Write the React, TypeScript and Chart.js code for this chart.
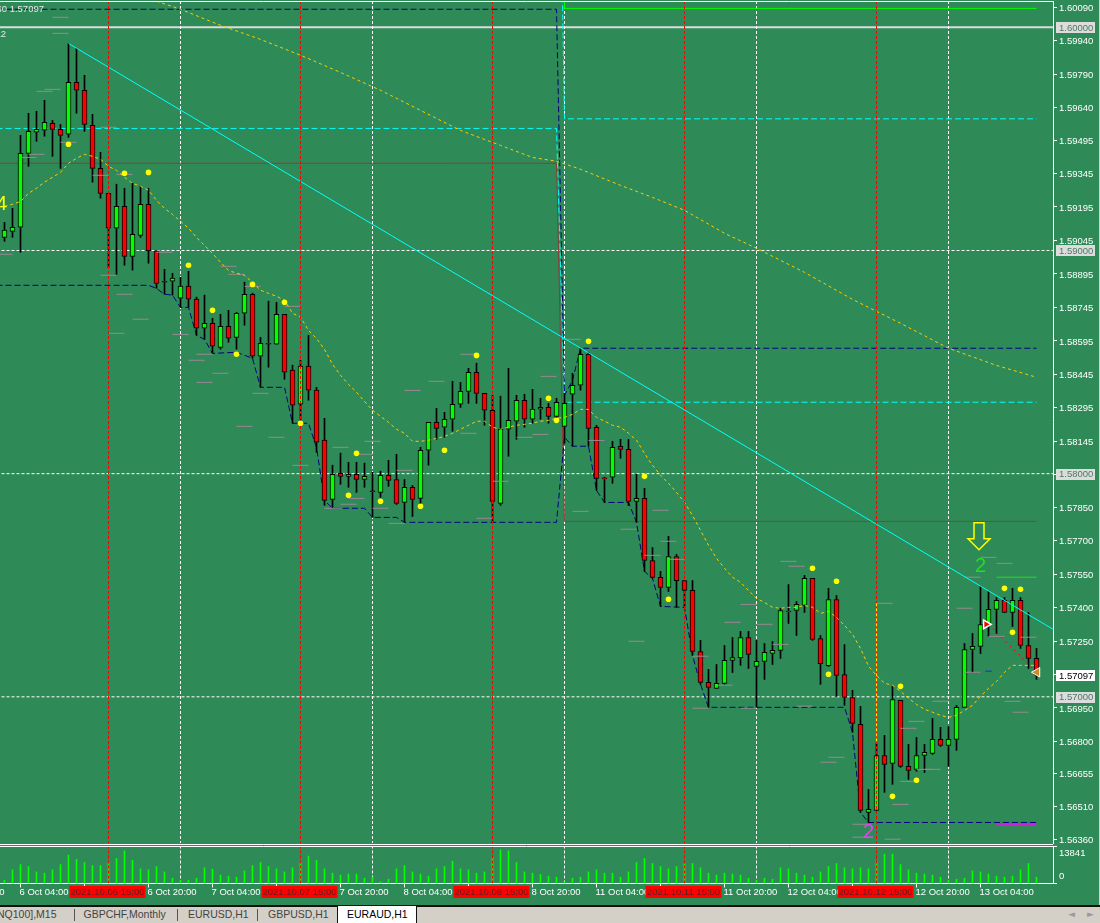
import React, { useEffect, useRef } from "react";
import { Chart, registerables } from "chart.js";

Chart.register(...registerables);

const opens = [
  1.59059,1.59086,1.59104,1.59435,1.59530,1.59539,1.59570,1.59543,1.59521,1.59754,
  1.59718,1.59561,1.59368,1.59256,1.59100,1.59198,1.58974,1.59068,1.59207,1.58999,
  1.58862,1.58862,1.58786,1.58840,1.58782,1.58652,1.58674,1.58566,1.58660,1.58611,
  1.58719,1.58804,1.58526,1.58584,1.58580,1.58714,1.58464,1.58311,1.58482,1.58374,
  1.58150,1.57885,1.58002,1.57988,1.57997,1.57974,1.57923,1.57916,1.57993,1.57974,
  1.57871,1.57939,1.57889,1.58105,1.58230,1.58208,1.58244,1.58311,1.58369,1.58454,
  1.58360,1.58284,1.57867,1.58199,1.58235,1.58329,1.58244,1.58289,1.58297,1.58257,
  1.58212,1.58356,1.58396,1.58535,1.58208,1.57981,1.57984,1.58123,1.58109,1.57876,
  1.57889,1.57611,1.57535,1.57490,1.57629,1.57521,1.57477,1.57203,1.57065,1.57038,
  1.57060,1.57163,1.57176,1.57266,1.57136,1.57159,1.57194,1.57208,1.57384,1.57387,
  1.57410,1.57531,1.57261,1.57140,1.57436,1.57100,1.56997,1.56877,1.56482,1.56491,
  1.56737,1.56702,1.56984,1.56688,1.56675,1.56737,1.56746,1.56809,1.56782,1.56809,
  1.56953,1.57212,1.57226,1.57324,1.57392,1.57432,1.57378,1.57432,1.57230,1.57172,
];
const closes = [
  1.59091,1.59104,1.59435,1.59534,1.59543,1.59574,1.59543,1.59516,1.59754,1.59718,
  1.59565,1.59368,1.59256,1.59100,1.59198,1.58974,1.59073,1.59207,1.58999,1.58853,
  1.58858,1.58876,1.58840,1.58782,1.58652,1.58674,1.58571,1.58660,1.58607,1.58719,
  1.58804,1.58526,1.58584,1.58580,1.58714,1.58455,1.58307,1.58482,1.58374,1.58141,
  1.57880,1.57997,1.57988,1.57997,1.57974,1.57988,1.57919,1.57993,1.57970,1.57867,
  1.57939,1.57885,1.58105,1.58230,1.58203,1.58244,1.58311,1.58369,1.58454,1.58360,
  1.58284,1.57876,1.58199,1.58239,1.58329,1.58244,1.58289,1.58297,1.58257,1.58320,
  1.58315,1.58396,1.58535,1.58203,1.57979,1.57977,1.58118,1.58109,1.57876,1.57889,
  1.57611,1.57535,1.57490,1.57629,1.57521,1.57477,1.57203,1.57065,1.57042,1.57060,
  1.57163,1.57176,1.57266,1.57190,1.57159,1.57199,1.57208,1.57387,1.57380,1.57414,
  1.57531,1.57257,1.57149,1.57436,1.57096,1.56997,1.56881,1.56491,1.56496,1.56737,
  1.56697,1.56988,1.56688,1.56670,1.56737,1.56751,1.56809,1.56782,1.56809,1.56953,
  1.57212,1.57226,1.57324,1.57392,1.57432,1.57378,1.57432,1.57230,1.57172,1.57097,
];
const highs = [
  1.59126,1.59189,1.59516,1.59615,1.59624,1.59673,1.59583,1.59565,1.59928,1.59906,
  1.59785,1.59610,1.59440,1.59256,1.59297,1.59279,1.59301,1.59288,1.59279,1.58999,
  1.58916,1.58898,1.58880,1.58907,1.58791,1.58800,1.58696,1.58714,1.58732,1.58723,
  1.58858,1.58809,1.58611,1.58773,1.58768,1.58714,1.58486,1.58508,1.58620,1.58387,
  1.58248,1.58038,1.58092,1.58051,1.58051,1.58047,1.58006,1.58011,1.58060,1.58087,
  1.57974,1.57947,1.58118,1.58230,1.58293,1.58275,1.58414,1.58409,1.58472,1.58495,
  1.58360,1.58351,1.58347,1.58472,1.58351,1.58356,1.58378,1.58338,1.58315,1.58338,
  1.58360,1.58450,1.58562,1.58544,1.58217,1.57984,1.58145,1.58154,1.58154,1.57997,
  1.57934,1.57669,1.57562,1.57719,1.57638,1.57521,1.57521,1.57253,1.57123,1.57145,
  1.57230,1.57266,1.57293,1.57293,1.57253,1.57239,1.57248,1.57396,1.57503,1.57427,
  1.57544,1.57531,1.57275,1.57486,1.57454,1.57234,1.57029,1.56957,1.56585,1.56791,
  1.56827,1.57047,1.56984,1.56787,1.56818,1.56787,1.56903,1.56863,1.56867,1.56962,
  1.57239,1.57284,1.57495,1.57472,1.57445,1.57445,1.57486,1.57445,1.57378,1.57217,
];
const lows = [
  1.59041,1.59059,1.58992,1.59377,1.59489,1.59512,1.59422,1.59368,1.59507,1.59615,
  1.59534,1.59306,1.59234,1.58923,1.58893,1.58934,1.58912,1.59059,1.58943,1.58831,
  1.58804,1.58800,1.58746,1.58746,1.58620,1.58602,1.58540,1.58558,1.58589,1.58558,
  1.58665,1.58517,1.58387,1.58477,1.58580,1.58423,1.58226,1.58239,1.58329,1.58096,
  1.57858,1.57845,1.57952,1.57939,1.57916,1.57939,1.57804,1.57894,1.57943,1.57862,
  1.57782,1.57808,1.57849,1.58038,1.58154,1.58163,1.58190,1.58297,1.58315,1.58315,
  1.58217,1.57782,1.57858,1.58078,1.58154,1.58208,1.58226,1.58244,1.58226,1.58239,
  1.58136,1.58123,1.58374,1.58123,1.57925,1.57871,1.57957,1.58069,1.57858,1.57782,
  1.57562,1.57531,1.57405,1.57472,1.57401,1.57401,1.57185,1.57056,1.56953,1.57038,
  1.57056,1.57109,1.57141,1.57127,1.56953,1.57078,1.57145,1.57172,1.57329,1.57275,
  1.57378,1.57253,1.57056,1.57136,1.57002,1.56962,1.56841,1.56482,1.56437,1.56491,
  1.56572,1.56608,1.56684,1.56630,1.56666,1.56661,1.56742,1.56778,1.56688,1.56760,
  1.56953,1.57109,1.57194,1.57271,1.57284,1.57378,1.57315,1.57217,1.57127,1.57078,
];
const volumes = [
  1179,5109,7074,6288,4323,3930,5109,7074,10611,9039,
  7860,6681,6681,7991,9432,12183,8646,5502,5109,6288,
  4323,1965,1048,1179,1965,5895,5371,3144,2751,2358,
  4716,6681,7860,6288,5502,4323,5895,7860,10218,8646,
  5502,3930,3144,3537,3537,1965,2358,655,1572,5502,
  6681,4323,3537,2751,5502,6288,8253,5502,5109,3930,
  4323,9825,12576,12183,7860,4323,3930,3406,2751,2358,
  655,1965,2358,4323,5109,3930,3930,2358,4323,7860,
  9432,7467,6288,5502,6288,7467,7467,5895,3930,3144,
  3930,3537,3144,1965,1048,1965,1572,5895,5502,3930,
  3144,2358,4323,6288,7467,5895,5502,5895,5502,8253,
  11004,11004,7074,5109,3930,3537,3144,2358,1048,1572,
  1965,4716,4323,3537,2751,2358,2751,5109,7467,2358,
];
const fastMa = [
  1.59198,1.59207,1.59220,1.59256,1.59279,1.59306,1.59328,1.59350,1.59391,1.59413,
  1.59431,1.59422,1.59409,1.59377,1.59359,1.59328,1.59301,1.59288,1.59270,1.59225,
  1.59189,1.59162,1.59131,1.59100,1.59059,1.59023,1.58987,1.58947,1.58911,1.58898,
  1.58889,1.58857,1.58822,1.58808,1.58795,1.58777,1.58719,1.58701,1.58642,1.58606,
  1.58557,1.58490,1.58441,1.58400,1.58365,1.58324,1.58284,1.58257,1.58230,1.58199,
  1.58181,1.58145,1.58145,1.58150,1.58158,1.58167,1.58181,1.58199,1.58217,1.58235,
  1.58235,1.58208,1.58199,1.58208,1.58217,1.58221,1.58226,1.58235,1.58239,1.58248,
  1.58252,1.58266,1.58288,1.58288,1.58252,1.58235,1.58217,1.58208,1.58181,1.58150,
  1.58091,1.58037,1.57993,1.57957,1.57916,1.57871,1.57813,1.57746,1.57679,1.57621,
  1.57576,1.57536,1.57513,1.57477,1.57441,1.57423,1.57401,1.57397,1.57401,1.57401,
  1.57410,1.57401,1.57374,1.57383,1.57356,1.57320,1.57280,1.57217,1.57137,1.57096,
  1.57061,1.57052,1.57025,1.56993,1.56966,1.56944,1.56931,1.56917,1.56908,1.56917,
  1.56939,1.56962,1.57002,1.57038,1.57069,1.57110,1.57141,1.57141,1.57141,1.57141,
];
const slowMaBars = [19,22,27,32,37,42,47,52,57,62,66,69,72,77,81,85,90,94,100,106,112,118,124,129];
const slowMaValues = [1.60117,1.60081,1.60009,1.59946,1.59875,1.59798,1.59718,1.59628,1.59538,1.59471,1.59417,1.59400,1.59364,1.59292,1.59238,1.59180,1.59077,1.59010,1.58902,1.58781,1.58674,1.58562,1.58485,1.58432];
const trendBars = [8, 131.1];
const trendValues = [1.59928, 1.57302];

const supportBars = [-1,18,19,20,21,22,23,24,25,26,29,31,32,35,36,38,39,40,41,45,46,49,50,69,70,71,73,74,75,78,79,80,81,82,85,86,87,88,105,106,107,108,129];
const supportValues = [1.58844,1.58844,1.58830,1.58804,1.58800,1.58745,1.58745,1.58620,1.58602,1.58539,1.58544,1.58517,1.58387,1.58387,1.58226,1.58226,1.58118,1.57880,1.57845,1.57845,1.57804,1.57804,1.57782,1.57782,1.58163,1.58123,1.58123,1.57925,1.57871,1.57871,1.57782,1.57562,1.57531,1.57405,1.57401,1.57186,1.57056,1.56953,1.56953,1.56841,1.56482,1.56437,1.56437];
const resistanceBars = [-1,69,70,71,72,129];
const resistanceValues = [1.60081,1.60081,1.58351,1.58418,1.58562,1.58562];
const cyanABars = [-1,69,70,129];
const cyanAValues = [1.59547,1.59547,1.58320,1.58320];
const cyanBBars = [69,70,129];
const cyanBValues = [1.61671,1.59590,1.59590];
const brownBars = [-1,69,70,129];
const brownValues = [1.59391,1.59391,1.57786,1.57786];
const greenBars = [70,70,129];
const greenValues = [1.60118,1.60085,1.60085];
const targetBars = [124,129];
const targetUpValue = 1.57536;
const targetDownValue = 1.56429;
const tradeBars = [123,129];
const tradeValues = [1.57325,1.57110];
const blueMarkBars = [122.6,123.4];
const blueMarkValue = 1.57115;
const yellowSepBar = 109;
const yellowSepValues = [1.57419,1.56791];

const roundLevels = [1.59,1.58,1.57];
const topLevel = 1.6;
const midnightBars = [22,46,70,94,118];
const redBars = [13,37,61,85,109];
const redLabels = ["2021.10.06 15:00","2021.10.07 15:00","2021.10.08 15:00","2021.10.11 15:00","2021.10.12 15:00"];

const dotBars = [8,15,18,23,31,35,26,29,37,44,43,47,52,55,59,68,69,73,80,83,101,104,103,112,111,114,125,127,126];
const dotValues = [1.59476,1.59346,1.59350,1.58934,1.58848,1.58768,1.58732,1.58535,1.58226,1.58091,1.57903,1.57876,1.57854,1.58105,1.58530,1.58338,1.58239,1.58593,1.57988,1.57437,1.57576,1.57518,1.57101,1.57047,1.56554,1.56626,1.57486,1.57482,1.57289];

const dashBars = [7,7,5,6,4,3,8,13,12,15,20,0,28,29,13,15,31,17,14,22,25,24,27,25,32,30,34,37,36,42,46,45,44,43,41,47,49,50,51,54,58,58,68,62,60,65,67,72,74,71,82,78,83,84,81,79,87,91,93,95,97,98,99,90,87,93,100,110,103,104,107,107,111,112,113,115,116,114,113,117,126,127,120,121,121,124,125,128,123];
const dashValues = [1.60045,1.59973,1.59713,1.59722,1.59431,1.59417,1.59485,1.59552,1.59337,1.59341,1.58992,1.58983,1.58929,1.58893,1.58889,1.58804,1.58839,1.58692,1.58629,1.58624,1.58535,1.58508,1.58450,1.58409,1.58360,1.58212,1.58163,1.58037,1.58750,1.58118,1.58145,1.58087,1.57889,1.57863,1.57845,1.57845,1.57777,1.58015,1.58373,1.58414,1.58535,1.58181,1.58436,1.57966,1.57800,1.58163,1.58176,1.57831,1.58149,1.58602,1.57836,1.57751,1.57697,1.57616,1.57634,1.57249,1.57182,1.57334,1.57414,1.57325,1.57235,1.57607,1.57585,1.57052,1.56949,1.56949,1.56958,1.57419,1.56707,1.56729,1.56429,1.56371,1.56362,1.56518,1.56621,1.56675,1.56675,1.56890,1.56859,1.56980,1.56980,1.56931,1.57397,1.57536,1.57110,1.57271,1.57598,1.57267,1.57625];

const priceTicks = [1.6009,1.5994,1.5979,1.5964,1.59495,1.59345,1.59195,1.59045,1.58895,1.58745,1.58595,1.58445,1.58295,1.58145,1.57995,1.5785,1.577,1.5755,1.574,1.5725,1.571,1.5695,1.568,1.56655,1.5651,1.5636];
const levelLabels = [1.6,1.59,1.58,1.57];
const lastPrice = 1.57097;
const volumeTicks = [13841,0];
const timeBars = [-6,2,10,18,26,34,42,50,58,66,74,82,90,98,106,114,122];
const timeLabels = ["5 Oct 20:00","6 Oct 04:00","","6 Oct 20:00","7 Oct 04:00","","7 Oct 20:00","8 Oct 04:00","","8 Oct 20:00","11 Oct 04:00","","11 Oct 20:00","12 Oct 04:00","","12 Oct 20:00","13 Oct 04:00"];
const tabs = ["NQ100],M15","GBPCHF,Monthly","EURUSD,H1","GBPUSD,H1","EURAUD,H1"];

const BG = "#2e8b57";
const FONT = '"Liberation Sans", Arial, sans-serif';
const FS = 9.5;
const P_MAX = 1.60118;
const P_MIN = 1.56345;
const X_MIN = -0.5625;
const X_MAX = 131.0625;

const xy = (xs: number[], ys: number[]) => xs.map((x, i) => ({ x, y: ys[i] }));
const line = (label: string, xs: number[], ys: number[], color: string, dash: number[], order: number, width = 1) => ({
  type: "line" as const,
  label,
  data: xy(xs, ys),
  borderColor: color,
  borderWidth: width,
  borderDash: dash,
  pointRadius: 0,
  fill: false,
  tension: 0,
  order,
});

const pricePlugin = {
  id: "priceDecor",
  afterDraw(chart: any) {
    const { ctx, chartArea, scales } = chart;
    const x = scales.x;
    const y = scales.y;
    ctx.save();
    ctx.strokeStyle = "#ffffff";
    ctx.lineWidth = 1;
    ctx.beginPath();
    ctx.moveTo(0, 1.5);
    ctx.lineTo(chartArea.right, 1.5);
    ctx.moveTo(0, 844.5);
    ctx.lineTo(chartArea.right, 844.5);
    ctx.stroke();

    ctx.textBaseline = "middle";
    ctx.font = `${FS}px ${FONT}`;
    levelLabels.forEach((v) => {
      const py = y.getPixelForValue(v);
      ctx.fillStyle = "#dcdcdc";
      ctx.fillRect(1056, Math.round(py) - 5, 39, 11);
      ctx.fillStyle = "#4c7a64";
      ctx.textAlign = "left";
      ctx.fillText(v.toFixed(5), 1059, py + 1);
    });
    const lp = y.getPixelForValue(lastPrice);
    ctx.fillStyle = "#ffffff";
    ctx.fillRect(1056, Math.round(lp) - 5, 39, 11);
    ctx.fillStyle = "#000000";
    ctx.fillText(lastPrice.toFixed(5), 1059, lp + 1);

    ctx.fillStyle = "#e8e8e8";
    ctx.textAlign = "right";
    ctx.fillText("60 1.57097", 44, 9.5);
    ctx.fillText("12", 6, 34);

    ctx.font = `20px ${FONT}`;
    ctx.fillStyle = "#ffff00";
    ctx.fillText("4", 7, 204);
    ctx.textAlign = "center";
    ctx.fillStyle = "#22dd22";
    ctx.fillText("2", x.getPixelForValue(122), y.getPixelForValue(1.57582));
    ctx.fillStyle = "#ff33ff";
    ctx.fillText("2", x.getPixelForValue(108), y.getPixelForValue(1.56392));

    const ax = x.getPixelForValue(122) - 1.5;
    const ay = y.getPixelForValue(1.57780);
    ctx.strokeStyle = "#ffff00";
    ctx.lineWidth = 1.5;
    ctx.beginPath();
    ctx.moveTo(ax - 5, ay);
    ctx.lineTo(ax + 5, ay);
    ctx.lineTo(ax + 5, ay + 16);
    ctx.lineTo(ax + 11, ay + 16);
    ctx.lineTo(ax, ay + 27);
    ctx.lineTo(ax - 11, ay + 16);
    ctx.lineTo(ax - 5, ay + 16);
    ctx.closePath();
    ctx.stroke();
    ctx.restore();
  },
};

const volumePlugin = {
  id: "volumeDecor",
  afterDraw(chart: any) {
    const { ctx, chartArea, scales } = chart;
    const x = scales.x;
    const y = scales.y;
    ctx.save();
    ctx.strokeStyle = "#ffffff";
    ctx.lineWidth = 1;
    ctx.beginPath();
    ctx.moveTo(0, 846.5);
    ctx.lineTo(chartArea.right, 846.5);
    ctx.stroke();

    ctx.font = `${FS}px ${FONT}`;
    ctx.textBaseline = "middle";
    ctx.textAlign = "left";
    ctx.fillStyle = "#ffffff";
    ctx.fillText("13841", 1059, y.getPixelForValue(13841) + 7);
    ctx.fillText("0", 1059, y.getPixelForValue(0) - 7);

    redBars.forEach((b, i) => {
      const px = x.getPixelForValue(b);
      ctx.fillStyle = "#ff0000";
      ctx.fillRect(px - 39, 886, 76, 12);
    });
    ctx.fillStyle = "#5c1f1f";
    ctx.textAlign = "center";
    redBars.forEach((b, i) => {
      ctx.fillText(redLabels[i], x.getPixelForValue(b) - 1, 892.5);
    });
    ctx.restore();
  },
};

export default function App() {
  const priceRef = useRef<HTMLCanvasElement>(null);
  const volumeRef = useRef<HTMLCanvasElement>(null);

  useEffect(() => {
    const xScale = { type: "linear" as const, min: X_MIN, max: X_MAX, display: false, offset: false };
    const bars = opens.map((_, i) => i);

    const priceDatasets: any[] = [
      ...midnightBars.map((b) => line("midnight", [b, b], [P_MAX, P_MIN], "#ffffff", [3, 2], 30)),
      ...roundLevels.map((v) => line("level", [-1, 132], [v, v], "#ffffff", [3, 2], 30)),
      line("level", [-1, 132], [topLevel, topLevel], "#dcdcdc", [], 30, 2),
      line("brown", brownBars, brownValues, "#8f3b3b", [], 28),
      line("green", greenBars, greenValues, "#00ff00", [], 28),
      line("cyanA", cyanABars, cyanAValues, "#00ffff", [6, 3], 28),
      line("cyanB", cyanBBars, cyanBValues, "#00ffff", [6, 3], 28),
      line("resistance", resistanceBars, resistanceValues, "#000080", [6, 3], 27),
      line("support", supportBars, supportValues, "#000080", [6, 3], 27),
      line("targetUp", targetBars, [targetUpValue, targetUpValue], "#22dd22", [], 27),
      line("targetDown", targetBars, [targetDownValue, targetDownValue], "#ff00ff", [], 26),
      line("blueMark", blueMarkBars, [blueMarkValue, blueMarkValue], "#2222ff", [], 26),
      {
        type: "bar",
        label: "wick",
        data: bars.map((i) => ({ x: i, y: [lows[i], highs[i]] })),
        backgroundColor: "#000000",
        barThickness: 1,
        grouped: false,
        order: 20,
      },
      {
        type: "bar",
        label: "body",
        data: bars.map((i) => ({ x: i, y: [opens[i], closes[i]] })),
        backgroundColor: bars.map((i) => (closes[i] >= opens[i] ? "#00ff00" : "#ff0000")),
        borderColor: "#000000",
        borderWidth: 1,
        borderSkipped: false,
        barThickness: 5,
        grouped: false,
        order: 19,
      },
      {
        type: "scatter",
        label: "marks",
        data: xy(dashBars, dashValues),
        pointStyle: "line",
        pointRadius: 8,
        pointBorderColor: "#9a8794",
        pointBorderWidth: 1,
        showLine: false,
        order: 18,
      },
      line("slowMa", slowMaBars, slowMaValues, "#ffcc00", [3, 3], 15),
      line("fastMa", bars, fastMa, "#ffcc00", [3, 3], 15),
      line("trend", trendBars, trendValues, "#00ffff", [], 14),
      line("trade", tradeBars, tradeValues, "#ff0000", [2, 4], 14),
      ...redBars.map((b) => line("session", [b, b], [P_MAX, P_MIN], "#ff0000", [3, 2], 10)),
      line("sessionYellow", [yellowSepBar, yellowSepBar], yellowSepValues, "#ffee00", [3, 2], 9),
      {
        type: "scatter",
        label: "dots",
        data: xy(dotBars, dotValues),
        pointStyle: "circle",
        pointRadius: 2.8,
        pointBackgroundColor: "#ffff00",
        pointBorderWidth: 0,
        showLine: false,
        order: 5,
      },
      {
        type: "scatter",
        label: "entry",
        data: [{ x: 122.7, y: tradeValues[0] }],
        pointStyle: "triangle",
        pointRotation: 90,
        pointRadius: 5,
        pointBackgroundColor: "#ff0000",
        pointBorderColor: "#ffffff",
        pointBorderWidth: 1.5,
        showLine: false,
        order: 4,
      },
      {
        type: "scatter",
        label: "exit",
        data: [{ x: 129.06, y: tradeValues[1] }],
        pointStyle: "triangle",
        pointRotation: -90,
        pointRadius: 5.5,
        pointBackgroundColor: "#d08a2a",
        pointBorderColor: "#ffffff",
        pointBorderWidth: 1,
        showLine: false,
        order: 4,
      },
    ];

    const priceChart = new Chart(priceRef.current as HTMLCanvasElement, {
      type: "bar",
      data: { datasets: priceDatasets },
      plugins: [pricePlugin],
      options: {
        animation: false,
        responsive: false,
        devicePixelRatio: 1,
        events: [],
        layout: { autoPadding: false, padding: { top: 1, left: 0, right: 0, bottom: 80 } },
        plugins: { legend: { display: false }, tooltip: { enabled: false } },
        scales: {
          x: xScale,
          y: {
            type: "linear",
            position: "right",
            min: P_MIN,
            max: P_MAX,
            afterBuildTicks: (s: any) => {
              s.ticks = priceTicks.map((value) => ({ value }));
            },
            afterFit: (s: any) => {
              s.width = 47;
              s.paddingTop = 0;
              s.paddingBottom = 0;
            },
            grid: { drawOnChartArea: false, tickLength: 4, tickColor: "#ffffff" },
            border: { color: "#ffffff", width: 1 },
            ticks: {
              color: "#ffffff",
              padding: 2,
              labelOffset: 1,
              autoSkip: false,
              font: { family: FONT, size: FS },
              callback: (v: any) => Number(v).toFixed(5),
            },
          },
        },
      } as any,
    } as any);

    const volumeDatasets: any[] = [
      ...midnightBars.map((b) => line("midnight", [b, b], [0, 13841], "#ffffff", [3, 2], 30)),
      {
        type: "bar",
        label: "volume",
        data: bars.map((i) => ({ x: i, y: volumes[i] })),
        backgroundColor: "#00ff00",
        barThickness: 1,
        grouped: false,
        order: 20,
      },
      ...redBars.map((b) => line("session", [b, b], [0, 13841], "#ff0000", [3, 2], 10)),
    ];

    const volumeChart = new Chart(volumeRef.current as HTMLCanvasElement, {
      type: "bar",
      data: { datasets: volumeDatasets },
      plugins: [volumePlugin],
      options: {
        animation: false,
        responsive: false,
        devicePixelRatio: 1,
        events: [],
        layout: { autoPadding: false, padding: { top: 846.5, left: 0, right: 0, bottom: 0 } },
        plugins: { legend: { display: false }, tooltip: { enabled: false } },
        scales: {
          x: {
            type: "linear",
            min: X_MIN,
            max: X_MAX,
            offset: false,
            afterBuildTicks: (s: any) => {
              s.ticks = timeBars.map((value) => ({ value }));
            },
            afterFit: (s: any) => {
              s.height = 39.5;
              s.paddingLeft = 0;
              s.paddingRight = 0;
            },
            grid: { drawOnChartArea: false, offset: false, tickLength: 4, tickColor: "#ffffff" },
            border: { color: "#ffffff", width: 1 },
            ticks: {
              color: "#ffffff",
              padding: -1,
              align: "start",
              autoSkip: false,
              maxRotation: 0,
              minRotation: 0,
              labelOffset: -1,
              font: { family: FONT, size: FS },
              callback: (v: any) => timeLabels[timeBars.indexOf(v)] ?? "",
            },
          },
          y: {
            type: "linear",
            position: "right",
            min: 0,
            max: 13841,
            afterBuildTicks: (s: any) => {
              s.ticks = volumeTicks.map((value) => ({ value }));
            },
            afterFit: (s: any) => {
              s.width = 47;
              s.paddingTop = 0;
              s.paddingBottom = 0;
            },
            grid: { drawOnChartArea: false, tickLength: 4, tickColor: "#ffffff" },
            border: { color: "#ffffff", width: 1 },
            ticks: { display: true, color: "rgba(0,0,0,0)", font: { family: FONT, size: FS } },
          },
        },
      } as any,
    } as any);

    return () => {
      priceChart.destroy();
      volumeChart.destroy();
    };
  }, []);

  const tabLefts = [0, 83.5, 188, 268, 347];
  const seps = [73.5, 177, 257];
  const canvasStyle: React.CSSProperties = { position: "absolute", left: 0, top: 0, width: 1100, height: 923 };

  return (
    <div style={{ position: "absolute", left: 0, top: 0, width: 1100, height: 923, overflow: "hidden", background: BG }}>
      <canvas ref={priceRef} width={1100} height={923} style={canvasStyle} />
      <canvas ref={volumeRef} width={1100} height={923} style={canvasStyle} />
      <div style={{ position: "absolute", left: 1099, top: 0, width: 1, height: 905, background: "#d4d0c8" }} />
      <div style={{ position: "absolute", left: 0, top: 905, width: 1100, height: 18, background: "#d4d0c8", borderTop: "2px solid #111", boxSizing: "border-box", fontFamily: FONT, fontSize: 10.5, color: "#444" }}>
        {tabs.map((t, i) =>
          i === 4 ? (
            <div key={t} style={{ position: "absolute", left: 337, top: -1, width: 80, height: 17, background: "#fff", borderLeft: "1px solid #111", borderRight: "1px solid #111", boxSizing: "border-box", color: "#000", lineHeight: "16px", paddingLeft: 9 }}>{t}</div>
          ) : (
            <div key={t} style={{ position: "absolute", left: i === 0 ? -3 : tabLefts[i], top: 0, lineHeight: "15px", whiteSpace: "nowrap" }}>{t}</div>
          )
        )}
        {seps.map((s) => (
          <div key={s} style={{ position: "absolute", left: s, top: 2, width: 1, height: 12, background: "#555" }} />
        ))}
        <div style={{ position: "absolute", left: 1068, top: 0, lineHeight: "15px", color: "#9a9a9a", fontFamily: "DejaVu Sans", fontSize: 9 }}>◄</div>
        <div style={{ position: "absolute", left: 1087, top: 0, lineHeight: "15px", color: "#9a9a9a", fontFamily: "DejaVu Sans", fontSize: 9 }}>►</div>
      </div>
    </div>
  );
}
